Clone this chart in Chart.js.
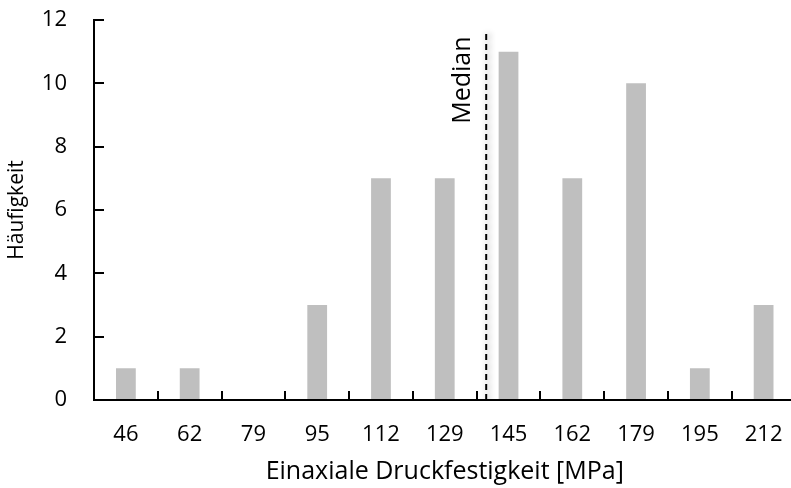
<!DOCTYPE html>
<html>
<head>
<meta charset="utf-8">
<script src="https://cdn.jsdelivr.net/npm/chart.js@4.4.1/dist/chart.umd.min.js"></script>
<style>
  html, body { margin: 0; padding: 0; background: #ffffff; }
  #wrap { width: 791px; height: 488px; overflow: hidden; position: relative; }
  canvas { display: block; }
</style>
</head>
<body>
<div id="wrap"><canvas id="c" width="797" height="488"></canvas></div>
<script>
// ---- data ----
const categories = ['46', '62', '79', '95', '112', '129', '145', '162', '179', '195', '212'];
const frequencies = [1, 1, 0, 3, 7, 7, 11, 7, 10, 1, 3];
const yTicks = [0, 2, 4, 6, 8, 10, 12];
const medianValue = 139.4;        // MPa
const medianLineTop = 11.65;      // frequency units
const medianLabel = 'Median';
const xTitle = 'Einaxiale Druckfestigkeit [MPa]';
const yTitle = 'Häufigkeit';

// position of the median in category-index units (interpolated between bin labels)
function medianIndex(v) {
  const nums = categories.map(Number);
  for (let i = 0; i < nums.length - 1; i++) {
    if (v >= nums[i] && v <= nums[i + 1]) return i + (v - nums[i]) / (nums[i + 1] - nums[i]);
  }
  return 0;
}
const mIdx = medianIndex(medianValue);

const FONT = "'Open Sans', 'DejaVu Sans', sans-serif";

const medianPlugin = {
  id: 'medianDecor',
  beforeDatasetDraw(chart, args) {
    if (args.index === 1) {
      const ctx = chart.ctx;
      ctx.save();
      ctx.shadowColor = 'rgba(0,0,0,0.45)';
      ctx.shadowBlur = 6;
      ctx.shadowOffsetX = 2;
    }
  },
  afterDatasetDraw(chart, args) {
    if (args.index === 1) chart.ctx.restore();
  },
  afterDatasetsDraw(chart) {
    const ctx = chart.ctx;
    const xs = chart.scales.x2, ys = chart.scales.y;
    const px = xs.getPixelForValue(mIdx) - 23;
    const py = ys.getPixelForValue(10.1);
    ctx.save();
    ctx.translate(px, py);
    ctx.rotate(-Math.PI / 2);
    ctx.font = "25px " + FONT;
    ctx.fillStyle = '#000';
    ctx.textAlign = 'center';
    ctx.textBaseline = 'middle';
    ctx.fillText(medianLabel, 0, 0);
    ctx.restore();
  }
};

new Chart(document.getElementById('c'), {
  type: 'bar',
  data: {
    labels: categories,
    datasets: [
      {
        data: frequencies,
        backgroundColor: '#bfbfbf',
        borderWidth: 0,
        grouped: false,
        barPercentage: 0.31,
        categoryPercentage: 1.0,
        xAxisID: 'x',
        yAxisID: 'y'
      },
      {
        type: 'line',
        data: [{ x: mIdx, y: 0 }, { x: mIdx, y: medianLineTop }],
        borderColor: '#000000',
        borderWidth: 2,
        borderDash: [6, 4],
        pointRadius: 0,
        fill: false,
        xAxisID: 'x2',
        yAxisID: 'y'
      }
    ]
  },
  options: {
    responsive: false,
    animation: false,
    devicePixelRatio: 1,
    layout: { padding: { top: 20, right: 1.5, bottom: 0, left: 0 } },
    plugins: { legend: { display: false }, tooltip: { enabled: false } },
    scales: {
      x: {
        type: 'category',
        offset: true,
        grid: {
          offset: true,
          drawOnChartArea: false,
          drawTicks: true,
          tickLength: -9,
          color: '#000',
          lineWidth: 2
        },
        border: { display: true, color: '#000', width: 2 },
        ticks: {
          color: '#000',
          font: { family: FONT, size: 22 },
          padding: 31,
          maxRotation: 0,
          autoSkip: false
        },
        title: {
          display: true,
          text: xTitle,
          color: '#000',
          font: { family: FONT, size: 25 },
          padding: { top: 0, bottom: 1 }
        },
        afterFit(s) { s.height = 88; s.paddingLeft = 0; s.paddingRight = 0; }
      },
      x2: {
        type: 'linear',
        display: false,
        offset: false,
        grid: { offset: false },
        min: -0.5,
        max: categories.length - 0.5
      },
      y: {
        min: 0,
        max: 12,
        afterBuildTicks(s) { s.ticks = yTicks.map(v => ({ value: v })); },
        grid: {
          drawOnChartArea: false,
          drawTicks: true,
          tickLength: -10,
          color: '#000',
          lineWidth: 2
        },
        border: { display: true, color: '#000', width: 2 },
        ticks: {
          color: '#000',
          font: { family: FONT, size: 22 },
          padding: 37
        },
        title: {
          display: true,
          text: yTitle,
          color: '#000',
          font: { family: FONT, size: 21 },
          padding: { top: 4, bottom: 0 }
        },
        afterFit(s) { s.width = 94; s.paddingTop = 0; s.paddingBottom = 0; }
      }
    }
  },
  plugins: [medianPlugin]
});
</script>
</body>
</html>
